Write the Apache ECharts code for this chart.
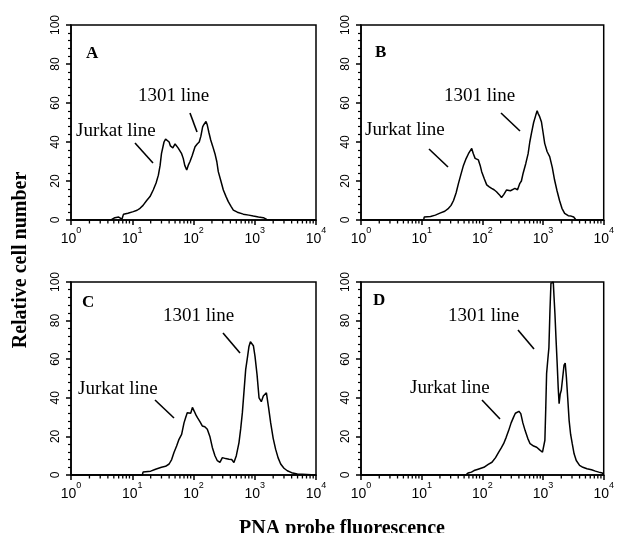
<!DOCTYPE html>
<html>
<head>
<meta charset="utf-8">
<script src="https://cdn.jsdelivr.net/npm/echarts@6/dist/echarts.min.js"></script>
<style>html,body{margin:0;padding:0;background:#fff;}#c{width:617px;height:533px;}</style>
</head>
<body>
<div id="c"></div>
<script>
// ---- data (fluorescence channel value, relative cell number) ----
const fluorA = [1, 4.5, 5.2, 6, 6.8, 7.2, 8.5, 10.4, 12, 13.4, 15, 17.2, 19.5, 22, 24.5, 26.7, 28.5, 30, 33, 35, 37.4, 40, 42, 44, 46, 48, 50, 53, 56, 60, 64, 68, 72, 77.5, 82, 87.7, 95, 106, 115, 124, 132, 141, 148, 154, 160, 168, 178, 191, 205, 224, 240, 254, 280, 307, 340, 370, 410, 447, 520, 650, 800, 948, 1150, 1380, 1480, 1567, 2000, 10000];
const countA = [0, 0, 1.2, 1.5, 0.5, 3, 3.5, 4.3, 5, 6, 7.5, 10, 12, 15.4, 19, 23, 28, 34, 40, 41.5, 41.5, 40, 38, 39, 37, 36, 39, 38.5, 37, 36, 34, 31.6, 28, 25.6, 28, 30, 33, 37.6, 39, 40, 43, 47.8, 49, 50, 50.5, 48.7, 45, 41, 38, 34, 30, 24.8, 20, 15.4, 12, 9.4, 7, 5.1, 4, 3, 2.5, 2, 1.5, 1.2, 1.5, 0.3, 0, 0];

const fluorB = [1, 10.8, 11, 14, 16.8, 20, 24, 27.7, 30.5, 33.5, 37, 40.4, 44, 48.8, 54, 59, 63, 66.8, 71, 76, 81, 86, 92, 97.5, 108, 118, 130, 142, 156, 171, 190, 207, 225, 251, 290, 344, 380, 415, 440, 470, 520, 568, 605, 645, 700, 760, 800, 828, 880, 940, 1000, 1065, 1170, 1287, 1420, 1550, 1700, 1870, 2050, 2270, 2600, 2900, 3200, 3500, 10000];
const countB = [0, 0, 1.5, 1.8, 2.5, 3.5, 4.5, 6, 7.5, 10, 14, 18.8, 23, 28, 31.5, 34, 33, 36.7, 34, 31.6, 32, 30.8, 28, 24.8, 21, 18, 17, 16.2, 15.5, 14.5, 13, 11.5, 13, 15.4, 15, 16.2, 15.5, 18.8, 20, 24, 29, 34, 40, 44.5, 50, 53.8, 56, 54.7, 53, 50.4, 45, 39.3, 35, 32.5, 27, 20.5, 15, 10, 6, 3.4, 2.2, 2, 1.5, 0, 0];

const fluorC = [1, 14.6, 15, 20, 24, 30, 35, 40, 44, 48, 53, 58, 64, 70, 75, 79, 84, 90, 96, 103, 110, 116, 128, 139, 153, 168, 185, 203, 224, 245, 270, 296, 335, 380, 420, 457, 500, 553, 590, 628, 670, 711, 760, 805, 850, 891, 950, 1010, 1090, 1175, 1280, 1380, 1460, 1550, 1680, 1820, 2000, 2190, 2400, 2650, 3000, 3400, 4000, 4950, 5300, 10000];
const countC = [0, 0, 1.5, 2, 3, 4, 4.5, 5.7, 8, 11.7, 15, 18.5, 21, 27, 30, 32.3, 33, 32, 35, 33, 31, 29.7, 27.5, 25.4, 25, 23.7, 20, 14.3, 10, 7.4, 6.5, 9, 8.5, 8.2, 8, 6.5, 10, 16.8, 24, 32.3, 44, 54.6, 61, 66.6, 69, 70, 67, 61.5, 52, 40, 38, 40.9, 41, 42.6, 35, 27, 19, 13.4, 9, 5.7, 3.5, 2.2, 1.2, 0.5, 0.2, 0];

const fluorD = [1, 53, 58, 66, 73, 85, 106, 125, 144, 165, 186, 205, 224, 247, 271, 298, 327, 350, 370, 400, 430, 465, 507, 560, 612, 700, 786, 880, 980, 1040, 1073, 1110, 1145, 1200, 1250, 1300, 1350, 1410, 1475, 1520, 1570, 1640, 1710, 1780, 1840, 1920, 2000, 2100, 2220, 2320, 2425, 2550, 2690, 2850, 3030, 3250, 3530, 4000, 4540, 5300, 6300, 7300, 8300, 9500, 10000];
const countD = [0, 0, 1, 1.5, 2.3, 3, 4, 5.5, 6.6, 9, 11.8, 14, 16.2, 19.5, 23, 27, 30, 32, 32.6, 33, 31.8, 27, 23, 19, 16.2, 15, 14.4, 13, 11.8, 11.5, 18, 35, 52.6, 60, 66, 85, 99.3, 100, 100, 92, 83.7, 70, 57.8, 45, 37, 42, 43.9, 50, 56.9, 58, 50.8, 40, 28.3, 21, 16.2, 11, 7.5, 5, 4, 3.2, 2.7, 2, 1.5, 1, 0.5];

const panelLetters = ['A', 'B', 'C', 'D'];
const decades = [1, 10, 100, 1000];
const minorMultipliers = [2, 3, 4, 5, 6, 7, 8, 9];
const yTitle = 'Relative cell number';
const xTitle = 'PNA probe fluorescence';
const jurkatLabel = 'Jurkat line';
const lineLabel = '1301 line';

// ---- layout ----
const grids = [
  {left: 71, top: 25, width: 245, height: 195},
  {left: 361, top: 25, width: 245, height: 195},
  {left: 71, top: 282, width: 245, height: 193},
  {left: 361, top: 282, width: 245, height: 193}
];
const allSeries = [[fluorA, countA], [fluorB, countB], [fluorC, countC], [fluorD, countD]];

const minorTickVals = [];
decades.forEach(d => minorMultipliers.forEach(m => minorTickVals.push(d * m)));

function xFmt(v) {
  const e = Math.round(Math.log10(v));
  return '{b|10}{s|' + e + '}';
}

const option = {
  animation: false,
  backgroundColor: '#fff',
  grid: grids.map(g => Object.assign({show: true, borderColor: '#000', borderWidth: 1.5, backgroundColor: 'transparent'}, g)),
  xAxis: grids.map((g, i) => ({
    type: 'log', logBase: 10, gridIndex: i, min: 1, max: 10000,
    axisLine: {lineStyle: {color: '#000', width: 1.5}},
    axisTick: {show: true, length: 5, lineStyle: {color: '#000', width: 1.5}},
    minorTick: {show: false},
    splitLine: {show: false},
    axisLabel: {
      margin: 6, color: '#000', formatter: xFmt,
      rich: {
        b: {fontSize: 14, fontFamily: 'Liberation Sans', color: '#000', lineHeight: 20, verticalAlign: 'bottom'},
        s: {fontSize: 9, fontFamily: 'Liberation Sans', color: '#000', lineHeight: 10, verticalAlign: 'top'}
      }
    }
  })),
  yAxis: grids.map((g, i) => ({
    type: 'value', gridIndex: i, min: 0, max: 100, interval: 20,
    axisLine: {show: true, lineStyle: {color: '#000', width: 1.5}},
    axisTick: {show: true, length: 5, lineStyle: {color: '#000', width: 1.5}},
    minorTick: {show: true, splitNumber: 5, length: 3, lineStyle: {color: '#000', width: 1.2}},
    splitLine: {show: false},
    axisLabel: {rotate: 90, fontSize: 12, fontFamily: 'Liberation Sans', color: '#000', margin: 9}
  })),
  series: []
};

allSeries.forEach((s, i) => {
  option.series.push({
    type: 'line', xAxisIndex: i, yAxisIndex: i,
    data: s[0].map((x, k) => [x, s[1][k]]),
    showSymbol: false, symbol: 'none',
    lineStyle: {color: '#000', width: 1.5},
    z: 3
  });
  option.series.push({
    type: 'custom', xAxisIndex: i, yAxisIndex: i, silent: true, clip: false,
    data: minorTickVals.map(v => [v, 0]),
    renderItem: function (params, api) {
      const p = api.coord([api.value(0), 0]);
      return {type: 'line', shape: {x1: p[0], y1: p[1], x2: p[0], y2: p[1] + 3.5}, style: {stroke: '#000', lineWidth: 1.3}};
    },
    z: 10
  });
});

// annotations (text + pointer segments)
const serif = 'Liberation Serif';
const annot = [
  {L: [86, 54], J: [76, 131], Js: [135, 143, 153, 163], N: [138, 96], Ns: [190, 113, 197, 132]},
  {L: [375, 53], J: [365, 130], Js: [429, 149, 448, 167], N: [444, 96], Ns: [501, 113, 520, 131]},
  {L: [82, 303], J: [78, 389], Js: [155, 400, 174, 418], N: [163, 316], Ns: [223, 333, 240, 353]},
  {L: [373, 301], J: [410, 388], Js: [482, 400, 500, 419], N: [448, 316], Ns: [518, 330, 534, 349]}
];
const graphic = [];
annot.forEach((a, i) => {
  graphic.push({type: 'text', left: a.L[0], top: a.L[1] - 9, style: {text: panelLetters[i], font: 'bold 17px ' + serif, fill: '#000'}});
  graphic.push({type: 'text', x: a.J[0], y: a.J[1], style: {text: jurkatLabel, font: '19px ' + serif, fill: '#000', verticalAlign: 'middle'}});
  graphic.push({type: 'text', x: a.N[0], y: a.N[1], style: {text: lineLabel, font: '19px ' + serif, fill: '#000', verticalAlign: 'middle'}});
  graphic.push({type: 'line', shape: {x1: a.Js[0], y1: a.Js[1], x2: a.Js[2], y2: a.Js[3]}, style: {stroke: '#000', lineWidth: 1.6}});
  graphic.push({type: 'line', shape: {x1: a.Ns[0], y1: a.Ns[1], x2: a.Ns[2], y2: a.Ns[3]}, style: {stroke: '#000', lineWidth: 1.6}});
});
graphic.push({type: 'text', x: 21, y: 260, rotation: Math.PI / 2,
  style: {text: yTitle, font: 'bold 20px ' + serif, fill: '#000', align: 'center', verticalAlign: 'middle'}});
graphic.push({type: 'text', x: 342, y: 529,
  style: {text: xTitle, font: 'bold 20px ' + serif, fill: '#000', align: 'center', verticalAlign: 'middle'}});
option.graphic = graphic;

const chart = echarts.init(document.getElementById('c'), null, {renderer: 'canvas'});
chart.setOption(option);
</script>
</body>
</html>
